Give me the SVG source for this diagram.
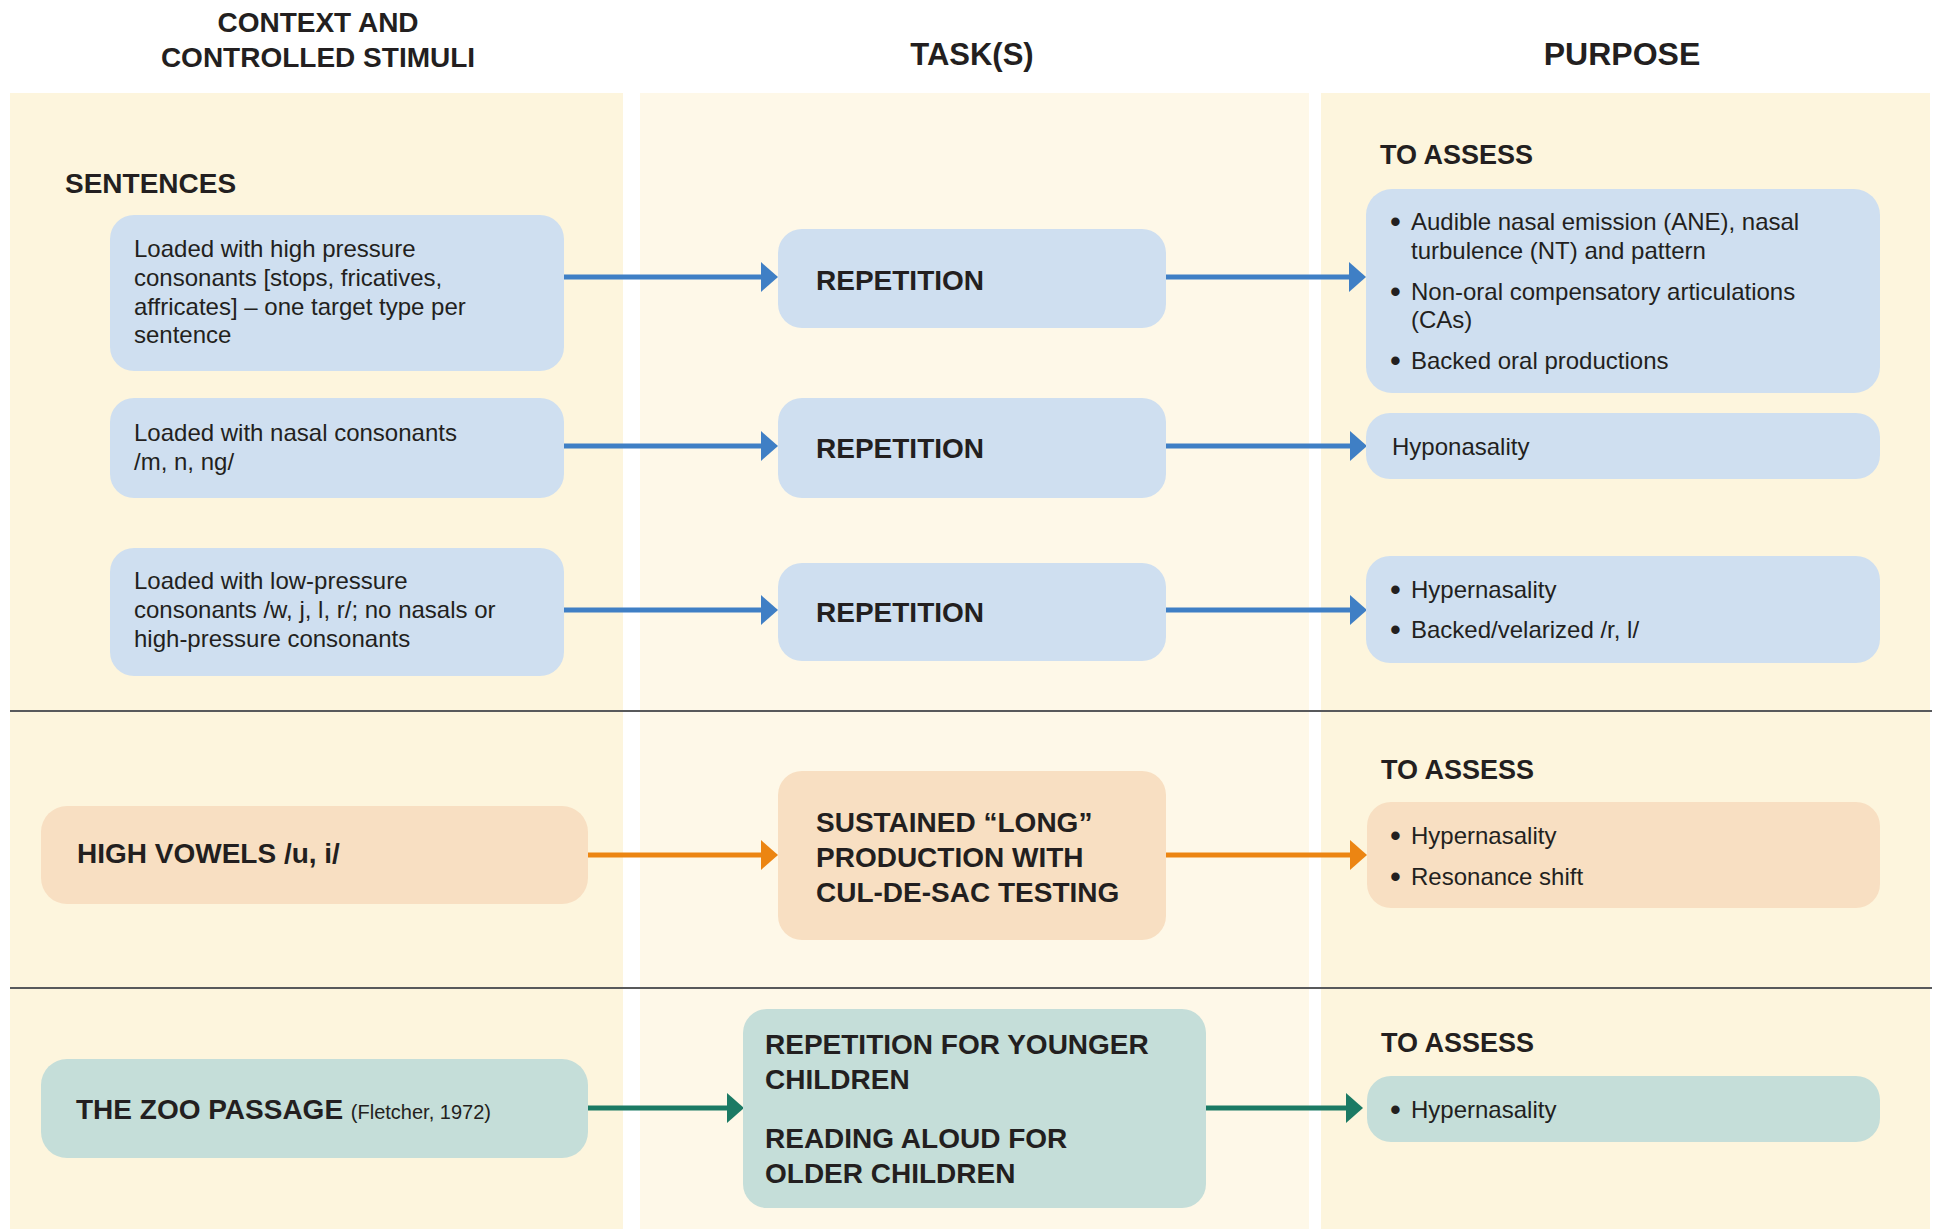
<svg xmlns="http://www.w3.org/2000/svg" width="1935" height="1229" viewBox="0 0 1935 1229">
<defs>
<style>
.hdr{font-family:"Liberation Sans",Arial,sans-serif;font-weight:bold;fill:#231f20}
.lbl{font-family:"Liberation Sans",Arial,sans-serif;font-weight:bold;font-size:28px;fill:#231f20}
.txt{font-family:"Liberation Sans",Arial,sans-serif;font-size:24px;fill:#231f20}
.bul{font-family:"Liberation Sans",Arial,sans-serif;font-size:31px;fill:#231f20}
.sub{font-family:"Liberation Sans",Arial,sans-serif;font-weight:bold;font-size:27px;fill:#231f20}
.blue{fill:#cfdff0}
.orange{fill:#f8dfc2}
.teal{fill:#c5ded9}
.ab{stroke:#3f7fc5;stroke-width:5;fill:none}
.ao{stroke:#ec8512;stroke-width:5;fill:none}
.at{stroke:#1b7a64;stroke-width:5;fill:none}
.sep{stroke:#58595b;stroke-width:2}
</style>
<marker id="mb" markerUnits="userSpaceOnUse" markerWidth="17" markerHeight="30" refX="0" refY="15" orient="auto"><path d="M0,0 L17,15 L0,30 Z" fill="#3f7fc5"/></marker>
<marker id="mo" markerUnits="userSpaceOnUse" markerWidth="17" markerHeight="30" refX="0" refY="15" orient="auto"><path d="M0,0 L17,15 L0,30 Z" fill="#ec8512"/></marker>
<marker id="mt" markerUnits="userSpaceOnUse" markerWidth="17" markerHeight="30" refX="0" refY="15" orient="auto"><path d="M0,0 L17,15 L0,30 Z" fill="#1b7a64"/></marker>
</defs>
<rect width="1935" height="1229" fill="#ffffff"/>
<g id="panels">
<rect x="10" y="93" width="613" height="1136" fill="#fdf5dd"/>
<rect x="640" y="93" width="669" height="1136" fill="#fef8e8"/>
<rect x="1321" y="93" width="609" height="1136" fill="#fdf5dd"/>
<line class="sep" x1="10" y1="711" x2="1932" y2="711"/>
<line class="sep" x1="10" y1="988" x2="1932" y2="988"/>
</g>
<g id="headers">
<text class="hdr" font-size="28" x="318" y="32" text-anchor="middle">CONTEXT AND</text>
<text class="hdr" font-size="28" x="318" y="67" text-anchor="middle">CONTROLLED STIMULI</text>
<text class="hdr" font-size="31" x="972" y="65" text-anchor="middle">TASK(S)</text>
<text class="hdr" font-size="32" x="1622" y="65" text-anchor="middle">PURPOSE</text>
<text class="lbl" x="65" y="193">SENTENCES</text>
<text class="sub" x="1380" y="164">TO ASSESS</text>
<text class="sub" x="1381" y="779">TO ASSESS</text>
<text class="sub" x="1381" y="1052">TO ASSESS</text>
</g>
<g id="connectors">
<line class="ab" x1="563" y1="277" x2="761" y2="277" marker-end="url(#mb)"/>
<line class="ab" x1="1166" y1="277" x2="1349" y2="277" marker-end="url(#mb)"/>
<line class="ab" x1="563" y1="446" x2="761" y2="446" marker-end="url(#mb)"/>
<line class="ab" x1="1166" y1="446" x2="1350" y2="446" marker-end="url(#mb)"/>
<line class="ab" x1="563" y1="610" x2="761" y2="610" marker-end="url(#mb)"/>
<line class="ab" x1="1166" y1="610" x2="1350" y2="610" marker-end="url(#mb)"/>
<line class="ao" x1="588" y1="855" x2="761" y2="855" marker-end="url(#mo)"/>
<line class="ao" x1="1166" y1="855" x2="1350" y2="855" marker-end="url(#mo)"/>
<line class="at" x1="588" y1="1108" x2="727" y2="1108" marker-end="url(#mt)"/>
<line class="at" x1="1206" y1="1108" x2="1346" y2="1108" marker-end="url(#mt)"/>
</g>
<g id="ctx-high-pressure">
<rect class="blue" x="110" y="215" width="454" height="156" rx="24"/>
<text class="txt" x="134" y="257">Loaded with high pressure</text>
<text class="txt" x="134" y="286">consonants [stops, fricatives,</text>
<text class="txt" x="134" y="315">affricates] – one target type per</text>
<text class="txt" x="134" y="343">sentence</text>
</g>
<g id="ctx-nasal">
<rect class="blue" x="110" y="398" width="454" height="100" rx="24"/>
<text class="txt" x="134" y="441">Loaded with nasal consonants</text>
<text class="txt" x="134" y="470">/m, n, ng/</text>
</g>
<g id="ctx-low-pressure">
<rect class="blue" x="110" y="548" width="454" height="128" rx="24"/>
<text class="txt" x="134" y="589">Loaded with low-pressure</text>
<text class="txt" x="134" y="618">consonants /w, j, l, r/; no nasals or</text>
<text class="txt" x="134" y="647">high-pressure consonants</text>
</g>
<g id="ctx-high-vowels">
<rect class="orange" x="41" y="806" width="547" height="98" rx="26"/>
<text class="lbl" x="77" y="863">HIGH VOWELS /u, i/</text>
</g>
<g id="ctx-zoo">
<rect class="teal" x="41" y="1059" width="547" height="99" rx="26"/>
<text class="lbl" x="76" y="1119">THE ZOO PASSAGE <tspan font-weight="normal" font-size="20">(Fletcher, 1972)</tspan></text>
</g>
<g id="task-rep1">
<rect class="blue" x="778" y="229" width="388" height="99" rx="24"/>
<text class="lbl" x="816" y="290">REPETITION</text>
</g>
<g id="task-rep2">
<rect class="blue" x="778" y="398" width="388" height="100" rx="24"/>
<text class="lbl" x="816" y="458">REPETITION</text>
</g>
<g id="task-rep3">
<rect class="blue" x="778" y="563" width="388" height="98" rx="24"/>
<text class="lbl" x="816" y="622">REPETITION</text>
</g>
<g id="task-sustained">
<rect class="orange" x="778" y="771" width="388" height="169" rx="24"/>
<text class="lbl" x="816" y="832">SUSTAINED “LONG”</text>
<text class="lbl" x="816" y="867">PRODUCTION WITH</text>
<text class="lbl" x="816" y="902">CUL-DE-SAC TESTING</text>
</g>
<g id="task-zoo">
<rect class="teal" x="743" y="1009" width="463" height="199" rx="24"/>
<text class="lbl" x="765" y="1054">REPETITION FOR YOUNGER</text>
<text class="lbl" x="765" y="1089">CHILDREN</text>
<text class="lbl" x="765" y="1148">READING ALOUD FOR</text>
<text class="lbl" x="765" y="1183">OLDER CHILDREN</text>
</g>
<g id="purpose-1">
<rect class="blue" x="1366" y="189" width="514" height="204" rx="26"/>
<text class="bul" x="1390" y="232">•</text><text class="txt" x="1411" y="230">Audible nasal emission (ANE), nasal</text>
<text class="txt" x="1411" y="259">turbulence (NT) and pattern</text>
<text class="bul" x="1390" y="302">•</text><text class="txt" x="1411" y="300">Non-oral compensatory articulations</text>
<text class="txt" x="1411" y="328">(CAs)</text>
<text class="bul" x="1390" y="371">•</text><text class="txt" x="1411" y="369">Backed oral productions</text>
</g>
<g id="purpose-2">
<rect class="blue" x="1366" y="413" width="514" height="66" rx="24"/>
<text class="txt" x="1392" y="455">Hyponasality</text>
</g>
<g id="purpose-3">
<rect class="blue" x="1366" y="556" width="514" height="107" rx="24"/>
<text class="bul" x="1390" y="600">•</text><text class="txt" x="1411" y="598">Hypernasality</text>
<text class="bul" x="1390" y="640">•</text><text class="txt" x="1411" y="638">Backed/velarized /r, l/</text>
</g>
<g id="purpose-4">
<rect class="orange" x="1367" y="802" width="513" height="106" rx="24"/>
<text class="bul" x="1390" y="846">•</text><text class="txt" x="1411" y="844">Hypernasality</text>
<text class="bul" x="1390" y="887">•</text><text class="txt" x="1411" y="885">Resonance shift</text>
</g>
<g id="purpose-5">
<rect class="teal" x="1367" y="1076" width="513" height="66" rx="24"/>
<text class="bul" x="1390" y="1120">•</text><text class="txt" x="1411" y="1118">Hypernasality</text>
</g>
</svg>
